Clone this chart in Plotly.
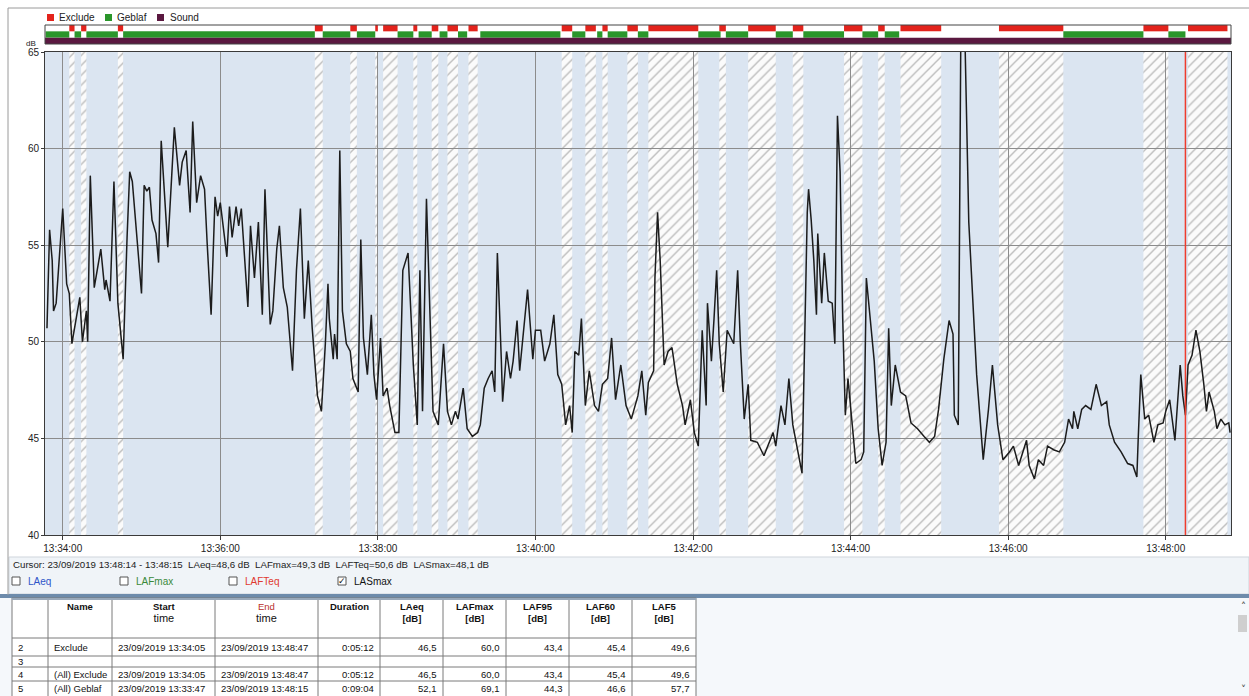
import plotly.graph_objects as go
import pandas as pd

# ---------------- data ----------------
DATE = "2019-09-23"
start_time = "13:33:46"

# seconds elapsed since start_time, and the LASmax level (dB)
elapsed_s = [2, 4, 6, 7, 9, 14, 17, 19, 21, 24, 27, 29, 32, 33, 35, 38, 43, 46, 47, 50,
             53, 56, 60, 63, 65, 67, 71, 74, 76, 78, 80, 82, 85, 87, 89, 92, 94, 97, 99, 103,
             105, 108, 111, 113, 116, 119, 122, 124, 127, 130, 132, 134, 136, 139, 141, 143, 146, 148, 150, 153,
             155, 157, 160, 163, 166, 168, 172, 174, 177, 179, 182, 185, 189, 192, 195, 198, 201, 204, 208, 211,
             214, 216, 217, 220, 221, 223, 225, 227, 230, 233, 235, 239, 241, 243, 246, 249, 251, 253, 256, 258,
             261, 263, 267, 270, 273, 277, 279, 281, 284, 286, 288, 291, 294, 296, 300, 304, 307, 310, 313, 315,
             319, 322, 326, 330, 332, 335, 338, 341, 343, 345, 348, 349, 352, 355, 357, 360, 362, 365, 368, 372,
             374, 378, 381, 385, 388, 391, 394, 397, 400, 402, 404, 407, 409, 412, 415, 419, 422, 425, 429, 432,
             435, 439, 443, 447, 452, 455, 458, 460, 464, 465, 467, 469, 472, 475, 478, 482, 486, 488, 492, 495,
             498, 501, 504, 505, 508, 510, 512, 514, 517, 520, 525, 528, 530, 533, 536, 538, 543, 548, 552, 555,
             557, 561, 564, 567, 570, 574, 577, 579, 581, 582, 584, 586, 588, 589, 592, 594, 597, 600, 602, 604,
             606, 608, 610, 612, 615, 618, 622, 624, 626, 628, 632, 635, 638, 641, 643, 645, 648, 652, 656, 660,
             665, 670, 674, 678, 681, 685, 689, 692, 693, 696, 697, 698, 701, 704, 710, 715, 719, 722, 726, 730,
             735, 738, 742, 748, 750, 754, 757, 761, 764, 769, 773, 777, 780, 783, 784, 787, 790, 793, 797, 801,
             805, 809, 811, 815, 820, 825, 829, 832, 833, 835, 838, 841, 845, 848, 852, 854, 857, 859, 861, 864,
             865, 867, 869, 871, 874, 877, 880, 883, 885, 887, 891, 893, 896, 899, 902, 903]
lasmax_db = [50.7, 55.8, 54.2, 51.6, 52.0, 56.9, 53.0, 52.5, 49.9, 51.2, 52.3, 50.0, 51.6, 50.0, 58.6, 52.8, 54.8, 52.7, 53.2, 52.1,
             58.3, 52.0, 49.1, 55.4, 58.8, 58.3, 55.1, 52.5, 58.1, 57.8, 58.0, 56.3, 55.6, 54.1, 60.4, 57.4, 54.9, 58.6, 61.1, 58.1,
             59.3, 59.9, 56.7, 61.4, 57.2, 58.6, 57.9, 55.1, 51.4, 57.5, 56.5, 57.2, 56.0, 54.4, 57.0, 55.4, 57.0, 56.0, 56.9, 53.9,
             51.8, 56.0, 53.3, 56.2, 51.4, 57.9, 50.9, 51.6, 54.8, 56.0, 52.8, 51.8, 48.5, 53.7, 56.9, 51.2, 54.2, 50.7, 47.2, 46.4,
             49.9, 53.0, 51.2, 49.1, 50.4, 49.1, 59.9, 51.6, 49.9, 49.5, 48.1, 47.4, 55.3, 50.2, 48.3, 51.4, 48.3, 47.0, 50.2, 47.2,
             47.6, 46.7, 45.3, 45.3, 53.7, 54.6, 51.6, 48.8, 45.7, 53.7, 46.4, 57.4, 50.7, 46.4, 45.7, 49.9, 46.4, 45.7, 46.4, 46.0,
             47.6, 45.5, 45.1, 45.3, 45.7, 47.6, 48.1, 48.5, 47.4, 54.6, 49.1, 46.9, 49.5, 48.1, 49.0, 51.1, 48.5, 50.7, 52.7, 49.1,
             50.6, 50.6, 49.0, 49.9, 51.4, 48.3, 47.8, 45.7, 46.7, 45.3, 49.5, 49.3, 51.2, 46.7, 48.5, 46.7, 46.4, 47.8, 48.1, 50.2,
             47.0, 48.8, 46.7, 46.0, 47.2, 48.5, 46.2, 47.9, 48.5, 53.3, 56.7, 54.2, 48.8, 49.5, 49.7, 47.8, 46.7, 45.7, 47.0, 45.3,
             44.6, 50.6, 46.7, 52.0, 49.0, 51.2, 53.7, 49.9, 47.4, 50.6, 49.9, 53.7, 50.0, 46.0, 47.8, 44.9, 44.8, 44.1, 44.8, 45.3,
             44.6, 46.7, 45.7, 48.1, 45.7, 44.3, 43.2, 50.0, 56.7, 57.9, 56.3, 54.2, 51.4, 55.6, 52.0, 54.6, 52.1, 52.0, 49.9, 61.7,
             58.8, 51.2, 46.2, 48.1, 45.7, 43.7, 43.9, 44.3, 53.3, 51.8, 49.0, 45.5, 43.6, 44.8, 50.7, 46.7, 48.8, 47.4, 47.2, 45.8,
             45.5, 45.1, 44.8, 45.1, 46.5, 49.1, 51.1, 50.4, 46.2, 45.7, 58.8, 66.5, 66.0, 56.2, 48.3, 43.9, 46.5, 48.8, 45.7, 43.9,
             44.3, 44.6, 43.6, 44.9, 43.6, 42.9, 43.9, 43.6, 44.6, 44.4, 44.3, 44.8, 46.0, 45.5, 46.4, 45.5, 46.5, 46.7, 46.5, 47.8,
             46.7, 46.9, 45.7, 44.8, 44.3, 43.7, 43.6, 43.0, 44.9, 48.3, 46.0, 46.2, 44.8, 45.7, 45.8, 46.4, 47.0, 46.0, 44.9, 47.8,
             48.8, 47.2, 46.2, 48.8, 49.3, 50.6, 49.5, 47.8, 46.4, 47.4, 46.4, 45.5, 46.0, 45.7, 45.8, 45.3]

exclude_intervals = [("13:34:05", "13:34:09"), ("13:34:14", "13:34:18"), ("13:34:42", "13:34:46"),
                     ("13:37:12", "13:37:18"), ("13:37:39", "13:37:44"), ("13:37:58", "13:38:00"),
                     ("13:38:04", "13:38:15"), ("13:38:27", "13:38:30"), ("13:38:41", "13:38:46"),
                     ("13:38:53", "13:39:01"), ("13:39:09", "13:39:16"), ("13:40:20", "13:40:28"),
                     ("13:40:38", "13:40:46"), ("13:40:51", "13:40:55"), ("13:41:10", "13:41:18"),
                     ("13:41:26", "13:42:04"), ("13:42:20", "13:42:25"), ("13:42:42", "13:43:03"),
                     ("13:43:16", "13:43:24"), ("13:43:55", "13:44:09"), ("13:44:21", "13:44:26"),
                     ("13:44:38", "13:45:09"), ("13:45:53", "13:46:42"), ("13:47:43", "13:48:02"),
                     ("13:48:17", "13:48:47")]
geblaf_intervals = [("13:33:47", "13:34:05"), ("13:34:09", "13:34:14"), ("13:34:18", "13:34:42"),
                    ("13:34:46", "13:37:12"), ("13:37:18", "13:37:39"), ("13:37:44", "13:37:58"),
                    ("13:38:15", "13:38:27"), ("13:38:31", "13:38:41"), ("13:38:47", "13:38:53"),
                    ("13:39:01", "13:39:08"), ("13:39:18", "13:40:19"), ("13:40:28", "13:40:38"),
                    ("13:40:47", "13:40:51"), ("13:40:55", "13:41:10"), ("13:41:18", "13:41:26"),
                    ("13:42:04", "13:42:21"), ("13:42:25", "13:42:42"), ("13:43:03", "13:43:16"),
                    ("13:43:24", "13:43:55"), ("13:44:09", "13:44:21"), ("13:44:26", "13:44:37"),
                    ("13:46:42", "13:47:43"), ("13:48:02", "13:48:15")]
sound_intervals = [("13:33:46", "13:48:50")]

cursor_time = "13:48:15"
x_range = ("13:33:46.5", "13:48:49.7")
y_range = (40, 65)
tick_start = "13:34:00"

cursor_text = ("Cursor: 23/09/2019 13:48:14 - 13:48:15  LAeq=48,6 dB  LAFmax=49,3 dB  "
               "LAFTeq=50,6 dB  LASmax=48,1 dB")
checkbox_labels = ["LAeq", "LAFmax", "LAFTeq", "LASmax"]
checkbox_colors = ["#2f55c8", "#3a8a3a", "#e03a30", "#111111"]
checkbox_checked = [False, False, False, True]

table_header = ["", "<b>Name</b>", "<b>Start</b><br><span style='font-size:11px'>time</span>",
                "<span style='color:#b8312b'>End</span><br><span style='font-size:11px'>time</span>",
                "<b>Duration</b>", "<b>LAeq</b><br><b>[dB]</b>", "<b>LAFmax</b><br><b>[dB]</b>",
                "<b>LAF95</b><br><b>[dB]</b>", "<b>LAF60</b><br><b>[dB]</b>", "<b>LAF5</b><br><b>[dB]</b>"]
table_rows = ["2", "3", "4", "5"]
table_name = ["Exclude", "", "(All) Exclude", "(All) Geblaf"]
table_start = ["23/09/2019 13:34:05", "", "23/09/2019 13:34:05", "23/09/2019 13:33:47"]
table_end = ["23/09/2019 13:48:47", "", "23/09/2019 13:48:47", "23/09/2019 13:48:15"]
table_duration = ["0:05:12", "", "0:05:12", "0:09:04"]
table_laeq = ["46,5", "", "46,5", "52,1"]
table_lafmax = ["60,0", "", "60,0", "69,1"]
table_laf95 = ["43,4", "", "43,4", "44,3"]
table_laf60 = ["45,4", "", "45,4", "46,6"]
table_laf5 = ["49,6", "", "49,6", "57,7"]

# ---------------- helpers / layout constants ----------------
W, H = 1249, 696
FONT = "Liberation Sans, Arial, sans-serif"
COL_EDGES = [12, 48, 112, 215, 318, 380, 443, 506, 569, 632, 696]
ROW_EDGES = [598, 638, 656, 667, 681, 696]
COL_ALIGN = ["left", "left", "left", "left", "right", "right", "right", "right", "right", "right"]


def T(hms):
    return f"{DATE} {hms}"


def px(x):
    return x / W


def py(y):
    return 1 - y / H


t0 = pd.Timestamp(T(start_time))
times = [(t0 + pd.Timedelta(seconds=s)).strftime("%Y-%m-%d %H:%M:%S") for s in elapsed_s]

XDOM = [px(45), px(1231)]
YDOM_MAIN = [py(535), py(52)]
YDOM_BAR = [py(44), py(25)]
XR = [T(x_range[0]), T(x_range[1])]

fig = go.Figure()

# hatched "Exclude" bands (background subplot x/y)
hx, hy = [], []
for s, e in exclude_intervals:
    hx += [T(s), T(e), T(e), T(s), T(s), None]
    hy += [y_range[0], y_range[0], y_range[1], y_range[1], y_range[0], None]
fig.add_trace(go.Scatter(x=hx, y=hy, mode="lines", fill="toself", line=dict(width=0),
                         fillcolor="white",
                         fillpattern=dict(shape="/", fgcolor="#bdbdbd", bgcolor="#fbfbfb",
                                          size=7, solidity=0.2),
                         xaxis="x", yaxis="y", hoverinfo="skip", showlegend=False))

# main LASmax trace (foreground subplot x2/y2)
fig.add_trace(go.Scatter(x=times, y=lasmax_db, mode="lines",
                         line=dict(color="#1c1c1c", width=1.5),
                         xaxis="x2", yaxis="y2", name="LASmax", showlegend=False))


# marker strip (x3/y3)
def strip(intervals, cat, color):
    base = [T(s) for s, e in intervals]
    dur = [(pd.Timestamp(T(e)) - pd.Timestamp(T(s))).total_seconds() * 1000 for s, e in intervals]
    return go.Bar(orientation="h", y=[cat] * len(intervals), x=dur, base=base, width=1.0,
                  marker=dict(color=color, line=dict(width=0)), xaxis="x3", yaxis="y3",
                  hoverinfo="skip", showlegend=False, name=cat)


fig.add_trace(strip(exclude_intervals, "Exclude", "#e3231c"))
fig.add_trace(strip(geblaf_intervals, "Geblaf", "#2a962a"))
fig.add_trace(strip(sound_intervals, "Sound", "#5a1840"))

axis_common = dict(domain=XDOM, range=XR, type="date")
fig.update_layout(
    width=W, height=H, template="none",
    margin=dict(l=0, r=0, t=0, b=0),
    paper_bgcolor="white", plot_bgcolor="rgba(0,0,0,0)",
    barmode="overlay", showlegend=False,
    font=dict(family=FONT, size=10, color="#222"),
    xaxis=dict(**axis_common, anchor="y", visible=False, fixedrange=True),
    yaxis=dict(domain=YDOM_MAIN, range=list(y_range), anchor="x", visible=False),
    xaxis2=dict(**axis_common, anchor="y2", showgrid=True, gridcolor="#8c8c8c", gridwidth=1,
                showline=True, linecolor="#3a3a3a", linewidth=1, mirror=True,
                ticks="outside", ticklen=4, tickcolor="#3a3a3a",
                tickformat="%H:%M:%S", dtick=120000, tick0=T(tick_start),
                tickfont=dict(size=10, color="#222"), zeroline=False),
    yaxis2=dict(domain=YDOM_MAIN, range=list(y_range), anchor="x2", dtick=5, tick0=40,
                showgrid=True, gridcolor="#8c8c8c", gridwidth=1,
                showline=True, linecolor="#3a3a3a", linewidth=1, mirror=True,
                ticks="outside", ticklen=3, tickcolor="#3a3a3a",
                tickfont=dict(size=10, color="#222"), zeroline=False),
    xaxis3=dict(**axis_common, anchor="y3", visible=False),
    yaxis3=dict(domain=YDOM_BAR, anchor="x3", type="category",
                categoryorder="array", categoryarray=["Sound", "Geblaf", "Exclude"],
                range=[-0.5, 2.5], visible=False),
)


def prect(x0, x1, y0, y1, fill, line=None, layer="above"):
    return dict(type="rect", xref="paper", yref="paper", x0=px(x0), x1=px(x1), y0=py(y1), y1=py(y0),
                fillcolor=fill, line=line or dict(width=0), layer=layer)


def pline(x0, x1, y0, y1, color, width=1):
    return dict(type="line", xref="paper", yref="paper", x0=px(x0), x1=px(x1), y0=py(y0), y1=py(y1),
                line=dict(color=color, width=width))


shapes = []
# light-blue plot background (below grid)
shapes.append(dict(type="rect", xref="x domain", yref="y domain", x0=0, x1=1, y0=0, y1=1,
                   fillcolor="#dbe5f1", line=dict(width=0), layer="below"))
# cursor
shapes.append(dict(type="line", xref="x2", yref="y2 domain", x0=T(cursor_time), x1=T(cursor_time),
                   y0=0, y1=1, line=dict(color="#ef3b2c", width=1.5), layer="above"))
# marker strip frame
shapes.append(dict(type="rect", xref="x3 domain", yref="y3 domain", x0=0, x1=1, y0=0, y1=1,
                   line=dict(color="#444", width=1), fillcolor="rgba(0,0,0,0)", layer="above"))
# window frame lines
shapes.append(pline(8, W, 8, 8, "#9a9a9a"))
shapes.append(pline(8, 8, 8, 595, "#9a9a9a"))
# status strip, separator, lower panel
shapes.append(prect(9, W, 557, 594, "#f0f4f8", dict(color="#cfd5dc", width=1), "below"))
shapes.append(prect(0, W, 594, 598, "#6d8bab", layer="below"))
shapes.append(prect(0, W, 598, H, "#f5f8fb", layer="below"))
# scrollbar thumb
shapes.append(prect(1238, 1247, 615, 632, "#cfcfcf"))
# legend squares
for x0, c in [(47, "#e3231c"), (105, "#2a962a"), (157, "#5a1840")]:
    shapes.append(prect(x0, x0 + 7, 14, 21, c))
# checkboxes
cb_x = [12, 120, 229, 338]
for x0 in cb_x:
    shapes.append(prect(x0, x0 + 8, 577, 585, "white", dict(color="#555", width=1)))
# table grid
shapes.append(prect(COL_EDGES[0], COL_EDGES[-1], ROW_EDGES[0], ROW_EDGES[-1] + 2, "white"))
for xe in COL_EDGES:
    shapes.append(pline(xe, xe, ROW_EDGES[0], H, "#7a7a7a"))
for ye in ROW_EDGES[:-1]:
    shapes.append(pline(COL_EDGES[0], COL_EDGES[-1], ye, ye, "#7a7a7a"))
shapes.append(pline(COL_EDGES[0], COL_EDGES[-1], ROW_EDGES[0] + 1, ROW_EDGES[0] + 1, "#9aa9ba", 2))
fig.update_layout(shapes=shapes)

ann = []


def ptext(text, x, y, size=10, color="#222", xanchor="left", yanchor="middle", family=FONT, align="left"):
    ann.append(dict(text=text, x=px(x), y=py(y), xref="paper", yref="paper", xanchor=xanchor,
                    yanchor=yanchor, showarrow=False, align=align,
                    font=dict(size=size, color=color, family=family)))


for x0, lab in [(57, "Exclude"), (115, "Geblaf"), (168, "Sound")]:
    ptext(lab, x0, 17.5)
ptext("dB", 38, 43, size=8, xanchor="right")
ptext(cursor_text, 11, 564, size=9.7)
for x0, lab, col, chk in zip(cb_x, checkbox_labels, checkbox_colors, checkbox_checked):
    ptext(lab, x0 + 14, 581, color=col)
    if chk:
        ptext("✓", x0 + 4, 581, size=9, color="#111", xanchor="center", family="DejaVu Sans")
ptext("˄", 1243, 606, color="#444", xanchor="center", family="DejaVu Sans")
ptext("˅", 1243, 689, color="#444", xanchor="center", family="DejaVu Sans")

# table text
for i, h in enumerate(table_header):
    if h:
        xc = (COL_EDGES[i] + COL_EDGES[i + 1]) / 2
        ptext(h, xc, ROW_EDGES[0] + 1, size=9.5, color="#111", xanchor="center", yanchor="top",
              align="center")
columns = [table_rows, table_name, table_start, table_end, table_duration,
           table_laeq, table_lafmax, table_laf95, table_laf60, table_laf5]
for ci, col in enumerate(columns):
    for ri, val in enumerate(col):
        if not val:
            continue
        yc = (ROW_EDGES[ri + 1] + ROW_EDGES[ri + 2]) / 2
        if COL_ALIGN[ci] == "left":
            ptext(val, COL_EDGES[ci] + 4, yc, size=9.5, color="#111")
        else:
            ptext(val, COL_EDGES[ci + 1] - 4, yc, size=9.5, color="#111", xanchor="right")
fig.update_layout(annotations=ann)

fig.write_html("out.html", include_plotlyjs=True, full_html=True,
               config={"displayModeBar": False},
               post_script="document.body.style.margin='0px';")
